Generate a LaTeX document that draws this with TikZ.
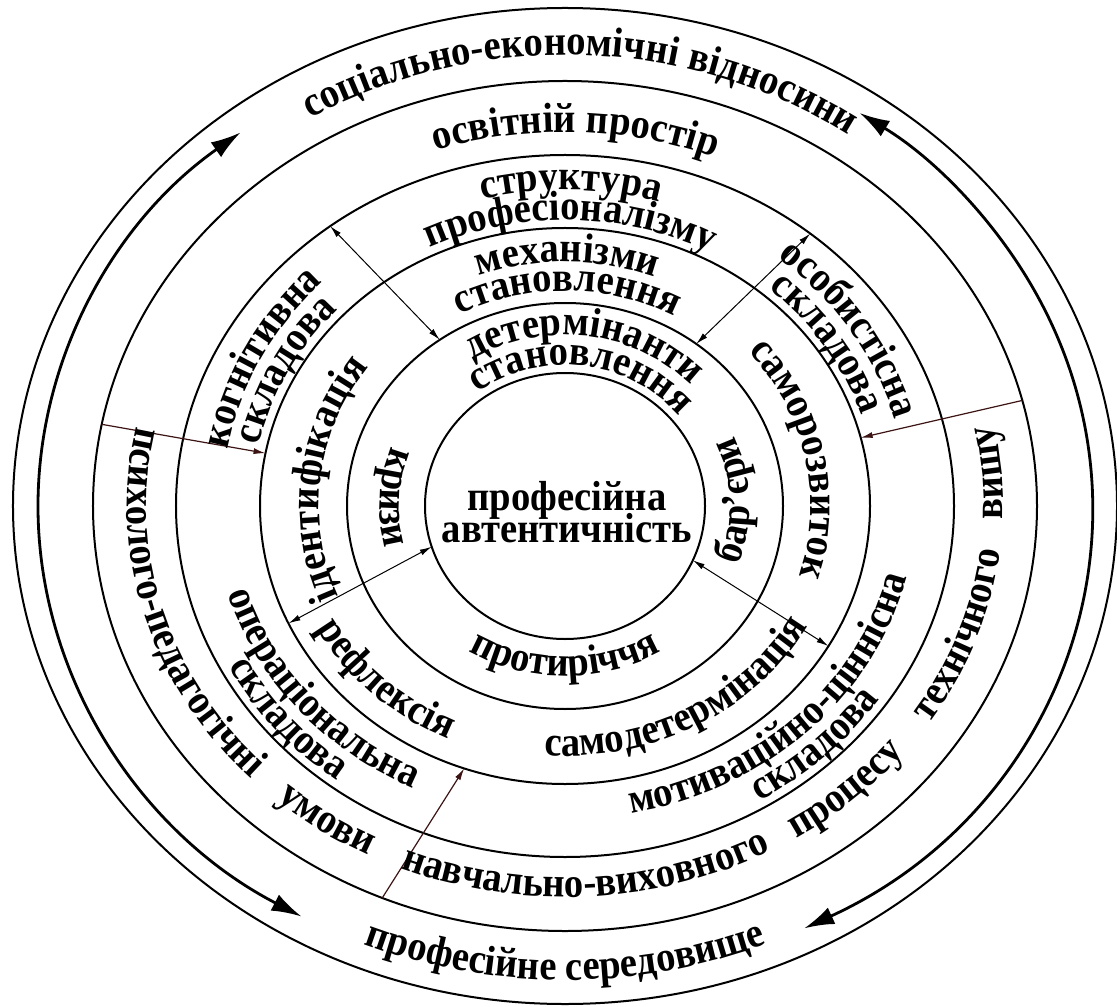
\documentclass[tikz,border=0pt]{standalone}
\usepackage{fontspec}
\setmainfont{Liberation Serif}
\newfontfamily\ringfont{Liberation Serif}[FakeStretch=0.92]
\usetikzlibrary{shapes.geometric, arrows.meta, decorations.text}
\definecolor{arrowbrown}{RGB}{60,20,20}
\newcommand\lbl{\ringfont\bfseries\fontsize{21}{16}\selectfont\lineskiplimit=-20pt}
% text on an elliptical arc: x radius, y radius, start angle, end angle, text
\newcommand\ringtext[5]{\path[decorate, decoration={text along path, text align=center, text={|\lbl|#5}}] (#3:#1 and #2) arc[start angle=#3, end angle=#4, x radius=#1, y radius=#2];}
\begin{document}
\begin{tikzpicture}[x=0.5pt, y=0.5pt,
  ring/.style={ellipse, draw, line width=1pt, inner sep=0pt, outer sep=0pt},
  link/.style={line width=0.5pt, {Latex[length=6pt,width=3pt]}-{Latex[length=6pt,width=3pt]}},
  feed/.style={line width=0.6pt, draw=arrowbrown, -{Latex[length=6pt,width=3pt]}},
  flow/.style={line width=1.4pt, {Latex[length=15pt,width=9pt]}-{Latex[length=15pt,width=9pt]}}]
\fill[white] (-565,-500) rectangle (552,506);
\useasboundingbox (-565,-500) rectangle (552,506);

% rings, from the outside in
\node[ring, minimum width=552pt, minimum height=498pt] (c1) at (0,0) {};
\node[ring, minimum width=472pt, minimum height=425pt] (c2) at (0,0) {};
\node[ring, minimum width=389pt, minimum height=351pt] (c3) at (0,0) {};
\node[ring, minimum width=305pt, minimum height=278pt] (c4) at (0,0) {};
\node[ring, minimum width=218pt, minimum height=203pt] (c5) at (0,0) {};
\node[ring, minimum width=140pt, minimum height=133pt] (c6) at (0,0) {};
\node[font=\lbl, align=center, inner sep=0pt] (core) at (2,-6) {професійна\\автентичність};

% big arrows between the two outer rings
\draw[flow] (240:527 and 474) arc[start angle=240, end angle=128, x radius=527, y radius=474];
\draw[flow] (-63:527 and 474) arc[start angle=-63, end angle=56, x radius=527, y radius=474];

% connectors
\draw[link] (c3.130) -- (c5.127);
\draw[link] (c3.48) -- (c5.51);
\draw[feed] (c2.170) -- (c4.170);
\draw[feed] (c2.13) -- (c4.13);
\draw[link] (c6.197) -- (c4.203);
\draw[link] (c6.337) -- (c4.332);
\draw[feed] (c2.245) -- (c4.249);

% labels, letters pointing outwards
\ringtext{498}{451}{128}{48}{соціально-економічні відносини}
\ringtext{412}{374}{120}{57}{освітній простір}
\ringtext{343}{316}{120}{58}{структура}
\ringtext{313}{286}{125}{53}{професіоналізму}
\ringtext{259}{244}{125}{54}{механізми}
\ringtext{230}{215}{130}{49}{становлення}
\ringtext{178}{171}{130}{36}{детермінанти}
\ringtext{148}{141}{130}{36}{становлення}
\ringtext{343}{316}{195}{111}{когнітивна}
\ringtext{313}{286}{195}{111}{складова}
\ringtext{343}{316}{75}{-9}{особистісна}
\ringtext{313}{286}{75}{-9}{складова}
\ringtext{246}{231}{213}{133}{ідентифікація}
\ringtext{246}{231}{55}{-31}{саморозвиток}

% labels, letters pointing inwards
\ringtext{185}{170}{140}{214}{кризи}
\ringtext{185}{170}{-35}{39}{бар’єри}
\ringtext{185}{170}{225}{315}{протиріччя}
\ringtext{283}{256}{192}{261}{рефлексія}
\ringtext{277}{250}{255}{343}{самодетермінація}
\ringtext{351}{313}{180}{259}{операціональна}
\ringtext{381}{343}{180}{259}{складова}
\ringtext{351}{313}{270}{359}{мотиваційно-ціннісна}
\ringtext{381}{343}{270}{359}{складова}
\ringtext{438}{391}{160}{232}{психолого-педагогічні}
\ringtext{438}{391}{226}{246}{умови}
\ringtext{438}{391}{243}{303}{навчально-виховного}
\ringtext{438}{391}{296}{327}{процесу}
\ringtext{438}{391}{320}{360}{технічного}
\ringtext{438}{391}{-10}{20}{вишу}
\ringtext{528}{474}{230}{310}{професійне середовище}
\end{tikzpicture}
\end{document}
